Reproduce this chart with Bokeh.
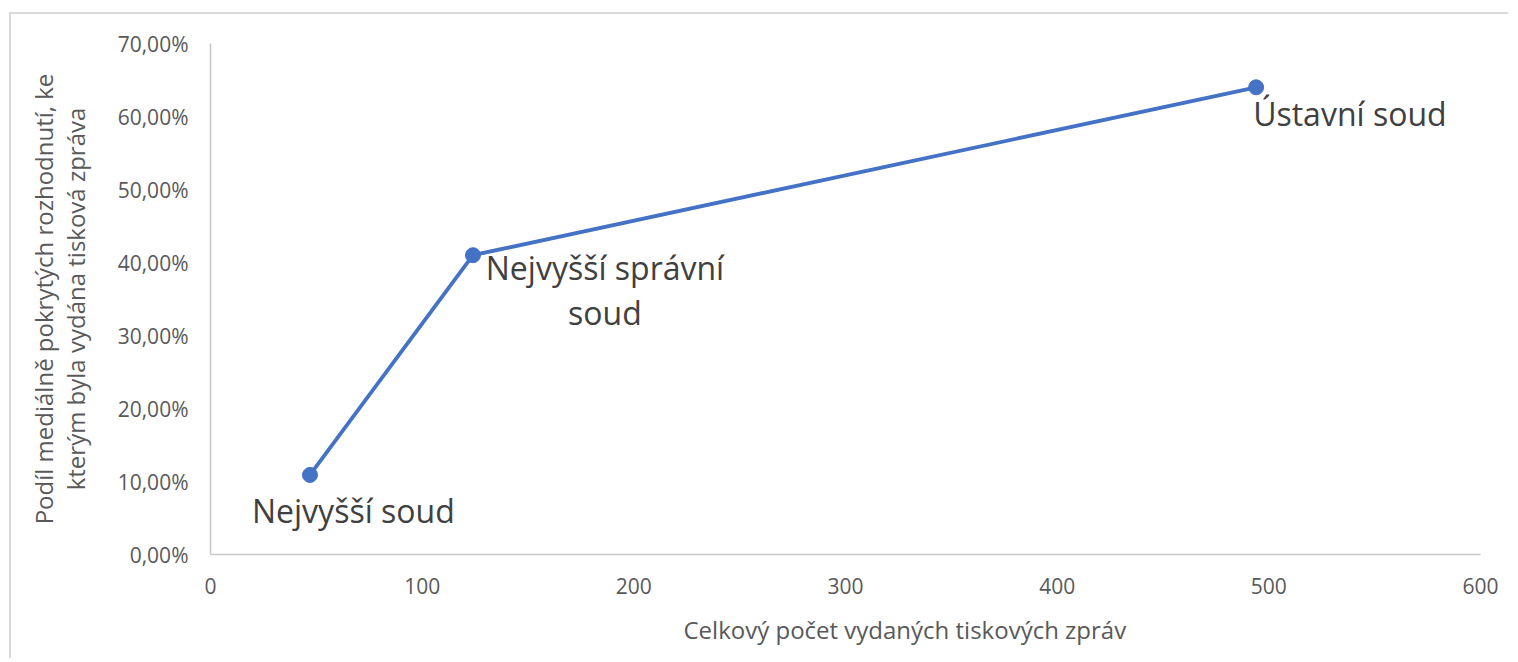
from bokeh.plotting import figure
from bokeh.models import Range1d, FixedTicker, Title
from bokeh.core.properties import value
from bokeh.embed import file_html
from bokeh.resources import INLINE

# data
courts = ["Nejvyšší soud", "Nejvyšší správní\nsoud", "Ústavní soud"]
press_releases = [47, 124, 494]
coverage_share = [0.109, 0.41, 0.64]
x_ticks = [0, 100, 200, 300, 400, 500, 600]
y_ticks = [0.0, 0.1, 0.2, 0.3, 0.4, 0.5, 0.6, 0.7]
y_tick_labels = ["0,00%", "10,00%", "20,00%", "30,00%", "40,00%", "50,00%", "60,00%", "70,00%"]
x_title = "Celkový počet vydaných tiskových zpráv"
y_title = "Podíl mediálně pokrytých rozhodnutí, ke\nkterým byla vydána tisková zpráva"

FONT = "Open Sans"
BLUE = "#4472C4"
TICK_COLOR = "#595959"
LABEL_COLOR = "#404040"

p = figure(width=1499, height=646, output_backend="svg", toolbar_location=None,
           x_range=Range1d(0, 600), y_range=Range1d(0, 0.7),
           min_border_left=199, min_border_right=30, min_border_top=29, min_border_bottom=106)
p.margin = (12, 0, 0, 9)
p.styles = {"border-left": "2px solid #D9D9D9", "border-top": "2px solid #D9D9D9"}
p.grid.visible = False
p.outline_line_color = None
p.background_fill_color = "white"
p.border_fill_color = "white"

for ax in (p.xaxis[0], p.yaxis[0]):
    ax.axis_line_color = "#C8C8C8"
    ax.axis_line_width = 1.5
    ax.major_tick_line_color = None
    ax.minor_tick_line_color = None
    ax.major_tick_out = 0
    ax.major_tick_in = 0
    ax.minor_tick_out = 0
    ax.major_label_text_font = FONT
    ax.major_label_text_font_size = "21px"
    ax.major_label_text_color = TICK_COLOR
    ax.axis_label_text_font = FONT
    ax.axis_label_text_font_size = "24px"
    ax.axis_label_text_font_style = "normal"
    ax.axis_label_text_color = TICK_COLOR

p.xaxis[0].ticker = FixedTicker(ticks=x_ticks)
p.xaxis[0].major_label_standoff = 23

p.yaxis[0].ticker = FixedTicker(ticks=y_ticks)
p.yaxis[0].major_label_overrides = {t: l for t, l in zip(y_ticks, y_tick_labels)}
p.yaxis[0].major_label_standoff = 22
p.yaxis[0].axis_label = y_title
p.yaxis[0].axis_label_standoff = 23
p.yaxis[0].axis_label_text_line_height = 0.95

p.add_layout(Title(text=x_title, align="left", offset=473, standoff=29,
                   text_font=FONT, text_font_size="24px", text_font_style="normal",
                   text_color=TICK_COLOR), "below")

p.line(press_releases, coverage_share, line_color=BLUE, line_width=3.8)
p.scatter(press_releases, coverage_share, size=15, fill_color=BLUE, line_color=BLUE)

# data labels (one per point, offsets chosen per point); multi-line labels drawn line by line
offsets = [(-58, 36, "left"), (132, 12, "center"), (-3, 26, "left")]
LINE_STEP = 45
for i, (dx, dy, align) in enumerate(offsets):
    for j, line in enumerate(courts[i].split("\n")):
        p.text([press_releases[i]], [coverage_share[i]], text=[line],
               x_offset=dx, y_offset=dy + j * LINE_STEP, text_align=align,
               text_baseline="alphabetic",
               text_font=value(FONT), text_font_size="32px", text_color=LABEL_COLOR)

open("out.html", "w").write(file_html(p, INLINE))
